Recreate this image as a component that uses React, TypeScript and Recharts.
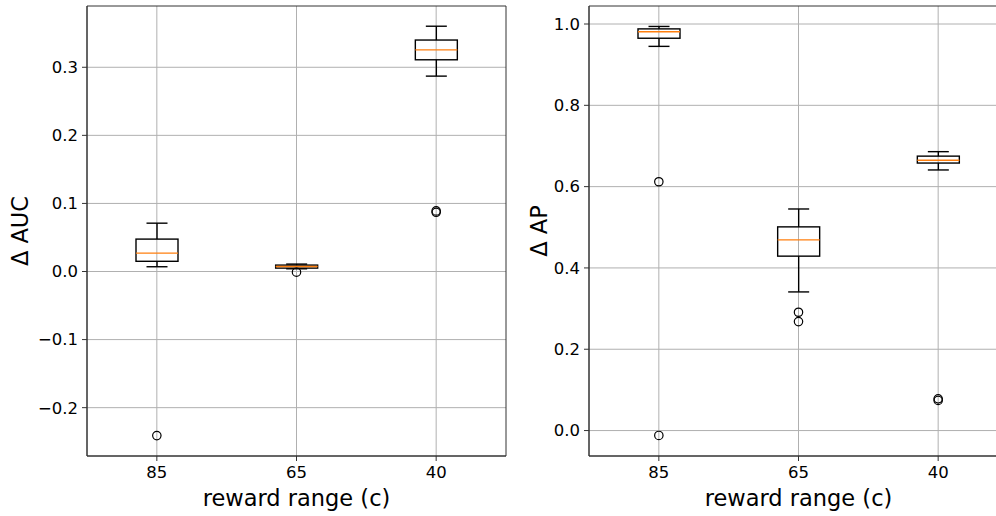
import React from 'react';
import { ComposedChart, Bar, Scatter, XAxis, YAxis, CartesianGrid, Label, ReferenceArea } from 'recharts';

const rewardRanges = ['85', '65', '40'];

// Δ AUC box stats per reward range
const aucWhiskerLow = [0.007, 0.004, 0.287];
const aucQ1 = [0.015, 0.005, 0.311];
const aucMedian = [0.027, 0.0073, 0.3255];
const aucQ3 = [0.0476, 0.0094, 0.34];
const aucWhiskerHigh = [0.071, 0.0109, 0.3603];
const aucOutliers = [[-0.241], [-0.001], [0.087, 0.089]];
const aucTicks = [-0.2, -0.1, 0, 0.1, 0.2, 0.3];

// Δ AP box stats per reward range
const apWhiskerLow = [0.945, 0.341, 0.641];
const apQ1 = [0.965, 0.429, 0.658];
const apMedian = [0.981, 0.469, 0.665];
const apQ3 = [0.988, 0.501, 0.675];
const apWhiskerHigh = [0.994, 0.545, 0.686];
const apOutliers = [[0.612, -0.012], [0.291, 0.268], [0.074, 0.078]];
const apTicks = [0, 0.2, 0.4, 0.6, 0.8, 1.0];

const buildRows = (lo: number[], q1: number[], med: number[], q3: number[], hi: number[]) =>
  rewardRanges.map((label, i) => ({
    pos: i + 1,
    label,
    range: [lo[i], hi[i]],
    q1: q1[i],
    median: med[i],
    q3: q3[i],
  }));

const buildOutliers = (groups: number[][]) =>
  groups.flatMap((vals, i) => vals.map((value) => ({ pos: i + 1, value })));

const aucRows = buildRows(aucWhiskerLow, aucQ1, aucMedian, aucQ3, aucWhiskerHigh);
const apRows = buildRows(apWhiskerLow, apQ1, apMedian, apQ3, apWhiskerHigh);
const aucOutlierRows = buildOutliers(aucOutliers);
const apOutlierRows = buildOutliers(apOutliers);

const FONT = 'DejaVu Sans, sans-serif';
const SPINE = '#333';

const BoxShape = (props: any) => {
  const { x, y, width, height, payload } = props;
  if (x == null || y == null) return null;
  const top = Math.min(y, y + height);
  const bottom = Math.max(y, y + height);
  const [lo, hi] = payload.range;
  // map a value onto the whisker span that the bar scale gave us
  const px = (v: number) => (hi === lo ? top : top + ((hi - v) / (hi - lo)) * (bottom - top));
  const cx = x + width / 2;
  const cap = width / 4;
  const yq3 = px(payload.q3);
  const yq1 = px(payload.q1);
  const ymed = px(payload.median);
  return (
    <g>
      <line x1={cx} x2={cx} y1={top} y2={yq3} stroke="#000" strokeWidth={1.4} />
      <line x1={cx} x2={cx} y1={yq1} y2={bottom} stroke="#000" strokeWidth={1.4} />
      <line x1={cx - cap} x2={cx + cap} y1={top} y2={top} stroke="#000" strokeWidth={1.4} />
      <line x1={cx - cap} x2={cx + cap} y1={bottom} y2={bottom} stroke="#000" strokeWidth={1.4} />
      <rect x={x} y={yq3} width={width} height={Math.max(yq1 - yq3, 0)} fill="none" stroke="#000" strokeWidth={1.4} />
      <line x1={x} x2={x + width} y1={ymed} y2={ymed} stroke="#ff7f0e" strokeWidth={1.4} />
    </g>
  );
};

const OutlierShape = (props: any) => {
  const { cx, cy } = props;
  if (cx == null || cy == null) return null;
  return <circle cx={cx} cy={cy} r={4.2} fill="none" stroke="#000" strokeWidth={1.2} />;
};

const fmt = (v: number) => v.toFixed(1).replace('-', '\u2212');

type PanelProps = {
  rows: any[];
  outliers: any[];
  domain: [number, number];
  ticks: number[];
  yLabel: string;
  yAxisWidth: number;
  labelX: number;
  width: number;
};

const BoxPanel = ({ rows, outliers, domain, ticks, yLabel, yAxisWidth, labelX, width }: PanelProps) => (
  <ComposedChart width={width} height={516} data={rows} margin={{ top: 6, right: 4, left: 0, bottom: 0 }}>
    <CartesianGrid stroke="#b0b0b0" strokeWidth={1} horizontalValues={ticks} verticalValues={[1, 2, 3]} />
    <XAxis
      type="number"
      dataKey="pos"
      domain={[0.5, 3.5]}
      ticks={[1, 2, 3]}
      interval={0}
      allowDataOverflow
      tickFormatter={(v: number) => rewardRanges[v - 1]}
      height={60}
      tickSize={5}
      tickMargin={5}
      stroke={SPINE}
      fontSize={16.5}
      tick={{ fill: '#000', fontSize: 16.5, fontFamily: FONT }}
    >
      <Label
        content={(p: any) => (
          <text
            x={p.viewBox.x + p.viewBox.width / 2}
            y={p.viewBox.y + 50}
            textAnchor="middle"
            fontSize={22.5}
            fontFamily={FONT}
            fill="#000"
          >
            reward range (c)
          </text>
        )}
      />
    </XAxis>
    <YAxis
      type="number"
      domain={domain}
      ticks={ticks}
      interval={0}
      allowDataOverflow
      tickFormatter={fmt}
      width={yAxisWidth}
      tickSize={5}
      tickMargin={4}
      stroke={SPINE}
      fontSize={16.5}
      tick={{ fill: '#000', fontSize: 16.5, fontFamily: FONT }}
    >
      <Label
        content={(p: any) => {
          const cy = p.viewBox.y + p.viewBox.height / 2;
          const lx = p.viewBox.x + labelX;
          return (
            <text
              x={lx}
              y={cy}
              textAnchor="middle"
              fontSize={22.5}
              fontFamily={FONT}
              fill="#000"
              transform={`rotate(-90, ${lx}, ${cy})`}
            >
              {yLabel}
            </text>
          );
        }}
      />
    </YAxis>
    {/* axes frame (top and right spines) */}
    <ReferenceArea
      x1={0.5}
      x2={3.5}
      y1={domain[0]}
      y2={domain[1]}
      fill="none"
      fillOpacity={0}
      stroke={SPINE}
      strokeWidth={1}
      ifOverflow="visible"
    />
    <Bar dataKey="range" barSize={42} shape={(p: any) => <BoxShape {...p} />} isAnimationActive={false} />
    <Scatter data={outliers} dataKey="value" shape={(p: any) => <OutlierShape {...p} />} isAnimationActive={false} />
  </ComposedChart>
);

export default function App() {
  return (
    <div
      style={{
        position: 'fixed',
        left: 0,
        top: 0,
        width: 996,
        height: 516,
        overflow: 'hidden',
        background: '#fff',
        fontFamily: FONT,
      }}
    >
      <div style={{ position: 'absolute', left: 0, top: 0 }}>
        <BoxPanel
          rows={aucRows}
          outliers={aucOutlierRows}
          domain={[-0.271, 0.39]}
          ticks={aucTicks}
          yLabel="Δ AUC"
          yAxisWidth={87}
          labelX={28}
          width={510}
        />
      </div>
      <div style={{ position: 'absolute', left: 500, top: 0 }}>
        <BoxPanel
          rows={apRows}
          outliers={apOutlierRows}
          domain={[-0.0626, 1.0443]}
          ticks={apTicks}
          yLabel="Δ AP"
          yAxisWidth={89}
          labelX={47}
          width={512}
        />
      </div>
    </div>
  );
}
